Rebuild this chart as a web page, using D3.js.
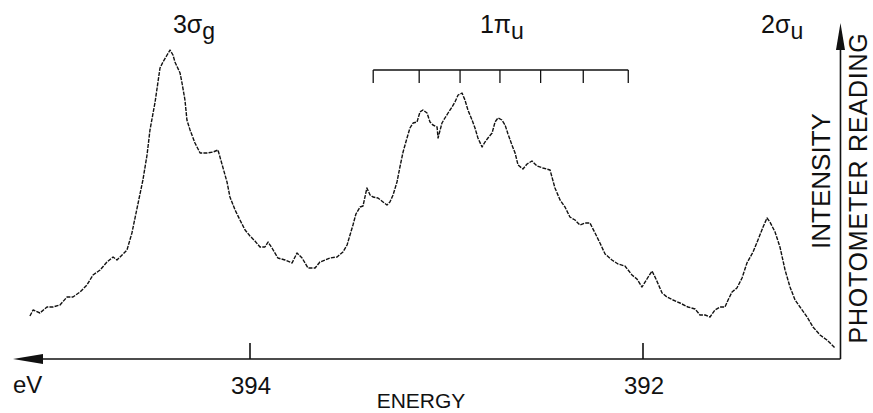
<!DOCTYPE html>
<html>
<head>
<meta charset="utf-8">
<script src="https://cdn.jsdelivr.net/npm/d3@7"></script>
<style>
  html, body { margin: 0; padding: 0; background: #fff; }
  svg { display: block; }
  text { font-family: "Liberation Sans", Arial, sans-serif; fill: #111; }
</style>
</head>
<body>
<svg id="chart" width="873" height="413"></svg>
<script>
// Energy (eV) of the photometer trace (axis reversed)
const energy = [
  395.120, 395.104, 395.069, 395.033, 395.003, 394.967, 394.931, 394.901, 394.865, 394.830,
  394.799, 394.763, 394.728, 394.697, 394.677, 394.651, 394.626, 394.601, 394.545, 394.524,
  394.509, 394.483, 394.458, 394.443, 394.422, 394.407, 394.392, 394.382, 394.356, 394.346,
  394.331, 394.321, 394.305, 394.280, 394.254, 394.219, 394.188, 394.163, 394.117, 394.102,
  394.076, 394.051, 394.025, 394.000, 393.975, 393.949, 393.924, 393.908, 393.888, 393.858,
  393.822, 393.786, 393.761, 393.735, 393.705, 393.669, 393.644, 393.618, 393.593, 393.557,
  393.527, 393.506, 393.491, 393.476, 393.461, 393.440, 393.425, 393.405, 393.389, 393.374,
  393.349, 393.323, 393.303, 393.288, 393.272, 393.252, 393.237, 393.221, 393.201, 393.186,
  393.170, 393.150, 393.135, 393.120, 393.099, 393.084, 393.069, 393.048, 393.043, 393.023,
  393.008, 392.992, 392.972, 392.957, 392.941, 392.921, 392.906, 392.891, 392.870, 392.855,
  392.840, 392.819, 392.804, 392.789, 392.768, 392.753, 392.738, 392.718, 392.702, 392.687,
  392.667, 392.651, 392.636, 392.611, 392.590, 392.565, 392.539, 392.509, 392.473, 392.448,
  392.422, 392.397, 392.372, 392.346, 392.321, 392.295, 392.270, 392.244, 392.219, 392.193,
  392.158, 392.127, 392.092, 392.056, 392.031, 392.005, 391.980, 391.954, 391.934, 391.903,
  391.878, 391.847, 391.812, 391.771, 391.735, 391.710, 391.684, 391.659, 391.634, 391.608,
  391.583, 391.567, 391.547, 391.522, 391.496, 391.471, 391.440, 391.415, 391.389, 391.369,
  391.354, 391.328, 391.303, 391.277, 391.252, 391.226, 391.201, 391.165, 391.135, 391.099,
  391.064, 391.038, 391.023
];
// Intensity (arbitrary photometer units)
const intensity = [
  43, 49, 46, 52, 52, 54, 62, 62, 67, 74,
  84, 89, 97, 102, 99, 104, 109, 126, 179, 204,
  229, 257, 291, 297, 304, 309, 304, 297, 286, 276,
  259, 239, 229, 216, 206, 206, 207, 209, 177, 162,
  149, 139, 129, 123, 118, 112, 112, 117, 111, 101,
  99, 96, 106, 101, 91, 91, 97, 99, 101, 102,
  107, 114, 124, 134, 145, 152, 153, 171, 164, 162,
  161, 157, 154, 157, 164, 177, 192, 207, 221, 231,
  236, 237, 247, 249, 246, 237, 234, 232, 221, 236,
  241, 246, 252, 257, 264, 266, 259, 249, 239, 231,
  221, 212, 217, 221, 226, 237, 241, 239, 234, 225,
  214, 206, 194, 190, 195, 198, 193, 191, 189, 171,
  159, 152, 142, 139, 134, 136, 136, 126, 116, 105,
  99, 95, 93, 84, 80, 72, 80, 88, 80, 66,
  62, 59, 56, 52, 50, 44, 44, 42, 49, 52,
  52, 59, 67, 71, 81, 96, 107, 119, 132, 141,
  137, 127, 112, 89, 72, 59, 52, 42, 32, 24,
  19, 14, 11
];
// Axis tick labels
const tickValues = [394, 392];
// 1πu vibrational progression comb (eV)
const combEnergies = [393.373, 393.139, 392.931, 392.728, 392.521, 392.304, 392.075];
// Peak labels: main text, subscript, energy at label start
const peakLabels = [
  { main: "3σ", sub: "g", e: 394.392 },
  { main: "1π", sub: "u", e: 392.830 },
  { main: "2σ", sub: "u", e: 391.399 }
];
const axisEnergyRange = [395.206, 390.995];
const intensityMax = 336;

const svg = d3.select("#chart");
const x = d3.scaleLinear().domain([394, 392]).range([250, 643]);
const y = d3.scaleLinear().domain([0, intensityMax]).range([359, 23]);

const ink = "#111";

// trace
const pts = energy.map((e, i) => [e, intensity[i]]);
svg.append("path")
  .datum(pts)
  .attr("d", d3.line().x(d => x(d[0])).y(d => y(d[1])))
  .attr("fill", "none")
  .attr("stroke", ink)
  .attr("stroke-width", 1.4)
  .attr("stroke-dasharray", "4 1.2")
  .attr("stroke-linejoin", "round");

// horizontal axis with arrow at left
const xLeft = x(axisEnergyRange[0]);
const xRight = x(axisEnergyRange[1]);
const y0 = y(0);
svg.append("line")
  .attr("x1", xLeft + 20).attr("x2", xRight)
  .attr("y1", y0).attr("y2", y0)
  .attr("stroke", ink).attr("stroke-width", 1.6);
svg.append("path")
  .attr("d", `M${xLeft},${y0} L${xLeft + 30},${y0 - 5} L${xLeft + 30},${y0 + 5} Z`)
  .attr("fill", ink);

// vertical axis with arrow at top
const yTop = y(intensityMax);
svg.append("line")
  .attr("x1", xRight).attr("x2", xRight)
  .attr("y1", y0).attr("y2", yTop + 20)
  .attr("stroke", ink).attr("stroke-width", 1.6);
svg.append("path")
  .attr("d", `M${xRight},${yTop} L${xRight - 4.5},${yTop + 27} L${xRight + 4.5},${yTop + 27} Z`)
  .attr("fill", ink);

// ticks and tick labels
tickValues.forEach(v => {
  svg.append("line")
    .attr("x1", x(v)).attr("x2", x(v))
    .attr("y1", y0 - 16).attr("y2", y0)
    .attr("stroke", ink).attr("stroke-width", 1.6);
  svg.append("text")
    .attr("x", x(v) + 1).attr("y", 394)
    .attr("text-anchor", "middle")
    .attr("font-size", 24)
    .text(v);
});

svg.append("text")
  .attr("x", 13).attr("y", 393)
  .attr("font-size", 24)
  .text("eV");

svg.append("text")
  .attr("x", 421).attr("y", 408)
  .attr("text-anchor", "middle")
  .attr("font-size", 21)
  .text("ENERGY");

// comb
const combY = 70;
svg.append("line")
  .attr("x1", x(combEnergies[0])).attr("x2", x(combEnergies[combEnergies.length - 1]))
  .attr("y1", combY).attr("y2", combY)
  .attr("stroke", ink).attr("stroke-width", 1.3);
svg.selectAll(".comb").data(combEnergies).enter().append("line")
  .attr("x1", d => x(d)).attr("x2", d => x(d))
  .attr("y1", combY).attr("y2", combY + 13)
  .attr("stroke", ink).attr("stroke-width", 1.3);

// peak labels
peakLabels.forEach(p => {
  const t = svg.append("text")
    .attr("x", x(p.e)).attr("y", 33)
    .attr("font-size", 25);
  t.append("tspan").text(p.main);
  t.append("tspan").attr("dy", 6).attr("font-size", 23).text(p.sub);
});

// rotated axis titles
svg.append("text")
  .attr("transform", "translate(830,181) rotate(-90)")
  .attr("text-anchor", "middle")
  .attr("font-size", 26)
  .text("INTENSITY");
svg.append("text")
  .attr("transform", "translate(867,188) rotate(-90)")
  .attr("text-anchor", "middle")
  .attr("font-size", 25)
  .attr("letter-spacing", 0.8)
  .text("PHOTOMETER READING");
</script>
</body>
</html>
